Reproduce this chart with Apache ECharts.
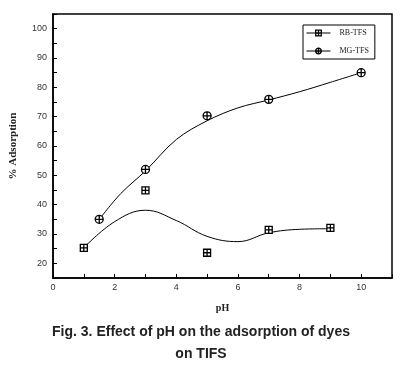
<!DOCTYPE html>
<html><head><meta charset="utf-8">
<script src="https://cdn.jsdelivr.net/npm/echarts@6/dist/echarts.min.js"></script>
<style>html,body{margin:0;padding:0;background:#fff}#c{width:402px;height:368px}</style>
</head><body><div id="c"></div>
<script>
// measured points
const rbPH = [1, 3, 5, 7, 9];
const rbAds = [25.3, 44.9, 23.6, 31.4, 32.1];
const mgPH = [1.5, 3, 5, 7, 10];
const mgAds = [35.0, 52.0, 70.3, 75.9, 85.0];
// fitted curves
const rbCurvePH = [1, 2, 3, 4, 5, 6, 7, 8, 9];
const rbCurveAds = [25.3, 34.2, 38.1, 34.6, 29.2, 27.4, 30.4, 31.6, 31.8];
const mgCurvePH = [1.5, 2.2, 3, 4, 5, 6, 7, 8, 9, 10];
const mgCurveAds = [35, 43.8, 51.5, 62.2, 68.6, 73, 75.7, 78.5, 81.7, 85];
const xTickLabels = ['0', '2', '4', '6', '8', '10'];
const yTickLabels = ['20', '30', '40', '50', '60', '70', '80', '90', '100'];

const zip = (a, b) => a.map((v, i) => [v, b[i]]);
const sqSym = 'path://M0,0H10V10H0Z M0,5H10 M5,0V10';
const cirSym = 'path://M5,0A5,5 0 1 1 5,10A5,5 0 1 1 5,0Z M5,0V10 M0,5H10';
const serif = 'Liberation Serif';
const chart = echarts.init(document.getElementById('c'), null, {renderer: 'canvas'});
chart.setOption({
  animation: false,
  backgroundColor: '#fff',
  title: {
    text: 'Fig. 3. Effect of pH on the adsorption of dyes\non TIFS',
    left: 'center', top: 316,
    textStyle: {fontFamily: 'Liberation Sans', fontWeight: 'bold', fontSize: 14, color: '#222', lineHeight: 22, align: 'center'}
  },
  grid: {left: 51, top: 14, right: 10, bottom: 90, show: true, borderColor: '#000', borderWidth: 1.5, containLabel: false},
  legend: {
    orient: 'vertical', left: 303, top: 25,
    data: ['RB-TFS', 'MG-TFS'],
    borderColor: '#000', borderWidth: 1, padding: [4, 6, 4, 3],
    itemWidth: 24, itemHeight: 7, itemGap: 10,
    itemStyle: {color: '#fff', borderColor: '#000', borderWidth: 1.3},
    lineStyle: {width: 1, color: '#000', opacity: 1},
    textStyle: {fontFamily: serif, fontSize: 8, color: '#222', padding: [0, 0, 0, 4]}
  },
  xAxis: {
    type: 'value', min: 0, max: 11, interval: 1,
    name: 'pH', nameLocation: 'middle', nameGap: 25,
    nameTextStyle: {fontFamily: serif, fontWeight: 'bold', fontSize: 10, color: '#222'},
    axisLine: {lineStyle: {color: '#000', width: 1.5}},
    axisTick: {inside: true, length: 4, lineStyle: {color: '#000'}},
    axisLabel: {fontFamily: 'Liberation Sans', fontSize: 9, color: '#333', margin: 5,
      formatter: v => xTickLabels.includes(String(v)) ? String(v) : ''},
    splitLine: {show: false}
  },
  yAxis: {
    type: 'value', min: 15, max: 105, interval: 5,
    name: '% Adsorption', nameLocation: 'middle', nameGap: 34, nameRotate: 90,
    nameTextStyle: {fontFamily: serif, fontWeight: 'bold', fontSize: 11, color: '#222'},
    axisLine: {lineStyle: {color: '#000', width: 1.5}},
    axisTick: {inside: true, length: 4, lineStyle: {color: '#000'}},
    axisLabel: {fontFamily: 'Liberation Sans', fontSize: 9, color: '#333', margin: 6,
      formatter: v => yTickLabels.includes(String(v)) ? String(v) : ''},
    splitLine: {show: false}
  },
  series: [
    {name: 'RB-TFS', type: 'line', data: zip(rbPH, rbAds), symbol: sqSym, symbolSize: 7,
      itemStyle: {color: '#fff', borderColor: '#000', borderWidth: 1.3},
      lineStyle: {width: 0, opacity: 0}, z: 5},
    {name: 'MG-TFS', type: 'line', data: zip(mgPH, mgAds), symbol: cirSym, symbolSize: 8,
      itemStyle: {color: '#fff', borderColor: '#000', borderWidth: 1.3},
      lineStyle: {width: 0, opacity: 0}, z: 5},
    {name: 'rbFit', type: 'line', data: zip(rbCurvePH, rbCurveAds), smooth: 0.4, symbol: 'none',
      lineStyle: {color: '#000', width: 1}, z: 3},
    {name: 'mgFit', type: 'line', data: zip(mgCurvePH, mgCurveAds), smooth: 0.35, symbol: 'none',
      lineStyle: {color: '#000', width: 1}, z: 3}
  ]
});
</script></body></html>
